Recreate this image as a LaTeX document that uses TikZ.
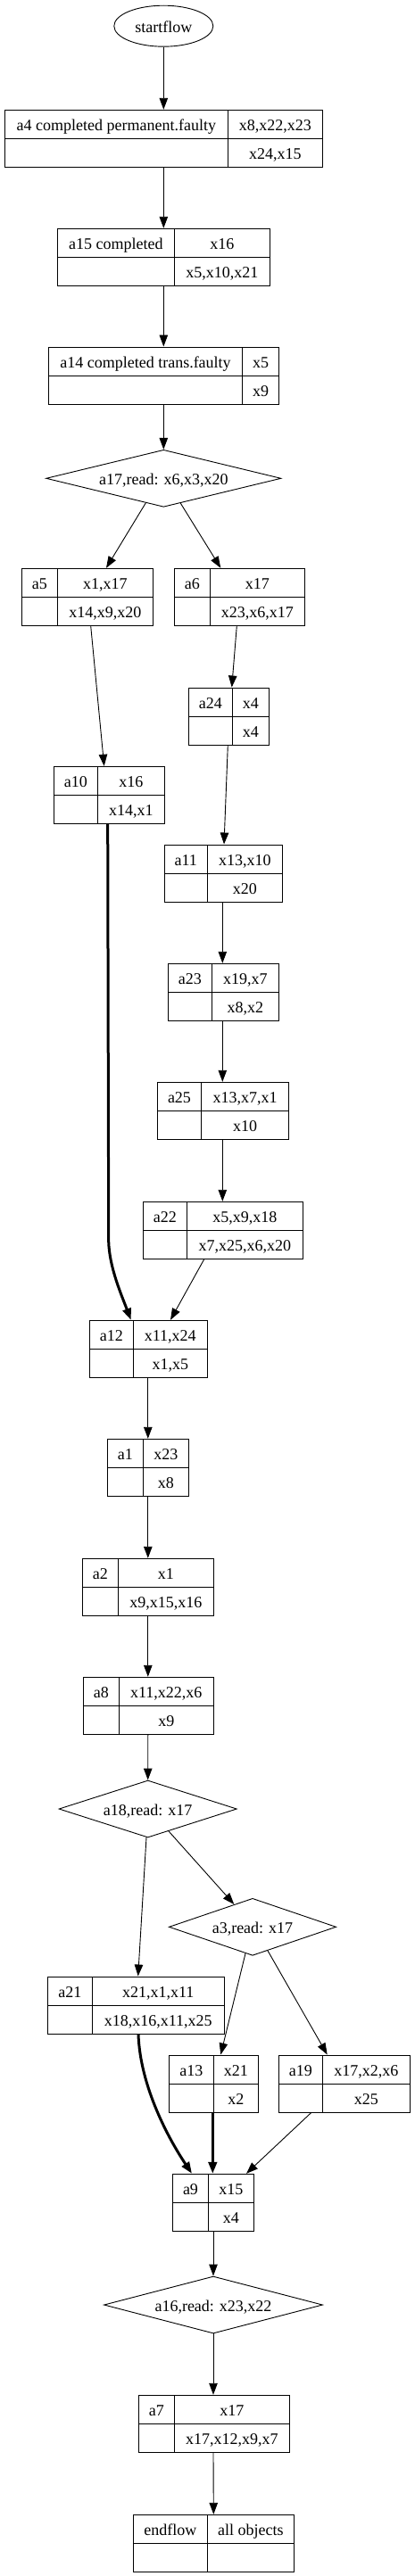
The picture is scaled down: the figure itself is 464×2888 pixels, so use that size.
\documentclass[tikz,border=0pt]{standalone}
\usepackage{fontspec}
\setmainfont{Liberation Serif}
\usetikzlibrary{arrows.meta,shapes.geometric,calc}
\tikzset{
  recbox/.style={draw, line width=1pt, inner sep=0pt, minimum height=64pt},
  divline/.style={line width=1pt},
  rtext/.style={font=\fontsize{18pt}{21pt}\selectfont, inner sep=0pt, text height=16pt, text depth=2pt},
  dia/.style={draw, diamond, line width=0.9pt, inner sep=0pt, minimum height=64pt, font=\fontsize{18pt}{21pt}\selectfont, text height=16pt, text depth=2pt},
  conn/.style={line width=0.9pt, -{Triangle[length=13pt,width=9.5pt]}},
  boldconn/.style={line width=3pt, -{Triangle[length=13pt,width=9.5pt]}}
}
\newcommand{\mkrec}[8]{%
  \node[recbox, minimum width={(#3-#2)*1pt}] (#1) at ({(#2+#3)/2},{#5+32}) {};
  \draw[divline] (#4,#5) -- (#4,{#5+64});
  \draw[divline] (#1.west) -- (#1.east);
  \node[rtext] (#1-l) at ({(#2+#4)/2},{#5+16}) {#6};
  \node[rtext] (#1-t) at ({(#4+#3)/2},{#5+16}) {#7};
  \node[rtext] (#1-b) at ({(#4+#3)/2},{#5+48}) {#8};
}
\begin{document}
\begin{tikzpicture}[x=1pt,y=-1pt]
\fill[white] (0,0) rectangle (464,2888);
\useasboundingbox (0,0) rectangle (464,2888);

\node[draw, ellipse, line width=0.9pt, minimum width=111pt, minimum height=46pt, inner sep=0pt, font=\fontsize{18pt}{21pt}\selectfont, text height=16pt, text depth=2pt] (sf) at (183.3,29.2) {startflow};

\mkrec{a4}{5.3}{361.3}{255.3}{123.3}{a4 completed permanent.faulty}{x8,x22,x23}{x24,x15}
\mkrec{a15}{64.3}{302.3}{195.3}{256.3}{a15 completed}{x16}{x5,x10,x21}
\mkrec{a14}{54.3}{312.3}{271.7}{389}{a14 completed trans.faulty}{x5}{x9}

\node[dia, minimum width=263.3pt, shape aspect=4.1] (a17) at (183.3,536.3) {a17,read: x6,x3,x20};

\mkrec{a5}{24.3}{171.3}{64.3}{637.3}{a5}{x1,x17}{x14,x9,x20}
\mkrec{a6}{195.3}{341.3}{235.3}{637.3}{a6}{x17}{x23,x6,x17}
\mkrec{a24}{211.3}{301.3}{260.3}{771}{a24}{x4}{x4}
\mkrec{a10}{60.3}{184.3}{109.3}{859.3}{a10}{x16}{x14,x1}
\mkrec{a11}{184.3}{316.3}{232.3}{947}{a11}{x13,x10}{x20}
\mkrec{a23}{188.3}{312.3}{237.3}{1080.3}{a23}{x19,x7}{x8,x2}
\mkrec{a25}{176.3}{323.3}{225.7}{1213.3}{a25}{x13,x7,x1}{x10}
\mkrec{a22}{160.3}{339.3}{209.3}{1347.3}{a22}{x5,x9,x18}{x7,x25,x6,x20}
\mkrec{a12}{100.3}{232.3}{149.3}{1480.3}{a12}{x11,x24}{x1,x5}
\mkrec{a1}{120.3}{211.3}{160.3}{1613.3}{a1}{x23}{x8}
\mkrec{a2}{92.3}{239.3}{132.3}{1747.3}{a2}{x1}{x9,x15,x16}
\mkrec{a8}{93.3}{239.3}{133.3}{1880.3}{a8}{x11,x22,x6}{x9}

\node[dia, minimum width=199.3pt, shape aspect=3.1] (a18) at (165.7,2028) {a18,read: x17};
\node[dia, minimum width=187.3pt, shape aspect=2.9] (a3) at (283,2160.3) {a3,read: x17};

\mkrec{a21}{53.3}{251.3}{103.3}{2216}{a21}{x21,x1,x11}{x18,x16,x11,x25}
\mkrec{a13}{189.3}{289.3}{239.3}{2304}{a13}{x21}{x2}
\mkrec{a19}{312.3}{459.3}{361.3}{2304}{a19}{x17,x2,x6}{x25}
\mkrec{a9}{193.7}{284.3}{233.3}{2437.3}{a9}{x15}{x4}

\node[dia, minimum width=245pt, shape aspect=3.8] (a16) at (239,2584) {a16,read: x23,x22};

\mkrec{a7}{155.3}{324.3}{195.3}{2685.3}{a7}{x17}{x17,x12,x9,x7}
\mkrec{endflow}{149.3}{329.3}{232.3}{2819.3}{endflow}{all objects}{}

% connectors
\draw[conn] (sf.south) -- (a4.north);
\draw[conn] (a4.south) -- (a15.north);
\draw[conn] (a15.south) -- (a14.north);
\draw[conn] (a14.south) -- (a17.north);
\draw[conn] ($(a17.south)+(-20,-4.9)$) -- ($(a5.north)+(21.2,0)$);
\draw[conn] ($(a17.south)+(19,-4.6)$) -- ($(a6.north)+(-21,0)$);
\draw[conn] ($(a5.south)+(3.9,0)$) -- ($(a10.north)+(-5.6,0)$);
\draw[conn] ($(a6.south)+(-3,0)$) -- ($(a24.north)+(3.4,0)$);
\draw[conn] ($(a24.south)+(-1,0)$) -- ($(a11.north)+(0.7,0)$);
\draw[conn] ($(a11.south)+(-1,0)$) -- ($(a23.north)+(-1,0)$);
\draw[conn] ($(a23.south)+(-1,0)$) -- ($(a25.north)+(-0.5,0)$);
\draw[conn] ($(a25.south)+(-0.5,0)$) -- ($(a22.north)+(-0.5,0)$);
\draw[conn] ($(a22.south)+(-21.1,0)$) -- ($(a12.north)+(24.7,0)$);
\draw[boldconn] ($(a10.south)+(-1.6,0)$) -- ($(a10.south)+(-0.6,468)$)
  .. controls ($(a10.south)+(0.2,497)$) and ($(a12.north)+(-30.3,-28.3)$) .. ($(a12.north)+(-19.6,0)$);
\draw[conn] ($(a12.south)+(-0.5,0)$) -- (a1.north);
\draw[conn] (a1.south) -- (a2.north);
\draw[conn] (a2.south) -- ($(a8.north)+(-0.5,0)$);
\draw[conn] ($(a8.south)+(-0.5,0)$) -- (a18.north);
\draw[conn] ($(a18.south)+(-1.7,-0.5)$) -- ($(a21.north)+(2.4,0)$);
\draw[conn] ($(a18.south)+(23.3,-7.5)$) -- ($(a3.north)+(-20.7,7.1)$);
\draw[conn] ($(a3.south)+(-8,-2.7)$) -- ($(a13.north)+(8,0)$);
\draw[conn] ($(a3.south)+(17,-5.8)$) -- ($(a19.north)+(-19.1,0)$);
\draw[boldconn] ($(a21.south)+(2.7,0)$) .. controls ($(a21.south)+(4.7,59.7)$) and ($(a9.north)+(-49,-37.3)$) .. ($(a9.north)+(-24,0)$);
\draw[boldconn] ($(a13.south)+(-1,0)$) -- ($(a9.north)+(-0.7,0)$);
\draw[conn] ($(a19.south)+(-37.1,0)$) -- ($(a9.north)+(37,0)$);
\draw[conn] (a9.south) -- (a16.north);
\draw[conn] (a16.south) -- ($(a7.north)+(-0.8,0)$);
\draw[conn] ($(a7.south)+(-0.8,0)$) -- (endflow.north);
\end{tikzpicture}
\end{document}
